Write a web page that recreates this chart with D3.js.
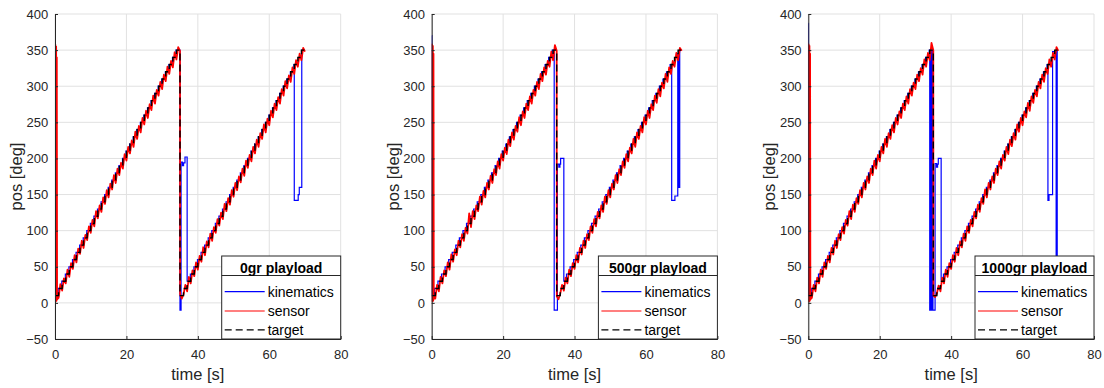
<!DOCTYPE html>
<html>
<head>
<meta charset="utf-8">
<script src="https://cdn.jsdelivr.net/npm/d3@7"></script>
<style>
  body { margin: 0; background: #fff; }
  svg { display: block; font-family: "Liberation Sans", Arial, sans-serif; }
</style>
</head>
<body>
<svg width="1104" height="388"></svg>
<script>
// ---- data ----
const panelTitles = ["0gr playload", "500gr playload", "1000gr playload"];
const seriesNames = ["kinematics", "sensor", "target"];
const xTicks = [0, 20, 40, 60, 80];
const yTicks = [-50, 0, 50, 100, 150, 200, 250, 300, 350, 400];

// target: one 10 deg step per second, two sweeps
const stepLevels = [10, 20, 30, 40, 50, 60, 70, 80, 90, 100, 110, 120, 130, 140, 150, 160, 170, 180,
  190, 200, 210, 220, 230, 240, 250, 260, 270, 280, 290, 300, 310, 320, 330, 340, 350];
const sweepStarts = [0, 35];
const sweepEnd = 70;

// kinematics: how far (s) it runs ahead of the target, plus the glitches [t, deg]
const kinLead = [0.1, 0.25, 0.15];
const kinStart = [
  [[0, 372], [0.05, 10]],
  [[0, 370], [0.05, 10]],
  [[0, 387], [0.05, 10]]
];
const kinMid = [
  [[35, -10], [35.3, 195], [35.7, 190], [36.0, 194], [36.4, 202], [37.0, 30]],
  [[34.3, -10], [35.2, 192], [35.6, 188], [35.9, 192], [36.1, 200], [37.0, 30]],
  [[34.0, -10], [34.2, 350], [34.5, -10], [34.7, 350], [34.9, -10], [35.5, 193], [35.9, 188], [36.2, 192], [36.4, 200], [37.2, 32]]
];
const kinEnd = [
  [[67.0, 142], [68.1, 150], [68.4, 160], [69.1, 350], [70, 350]],
  [[67.2, 142], [68.1, 148], [68.9, 345], [69.05, 160], [69.2, 348], [69.35, 160], [69.45, 350], [70, 350]],
  [[67.1, 142], [67.4, 150], [68.4, 348], [69.4, 0], [69.55, 350], [69.7, 0], [69.8, 0]]
];

// sensor: samples every 0.5 s inside each sweep
const sensorSweep1 = [
  [15, 7, 26, 17, 34, 27, 46, 36, 55, 47, 66, 56, 75, 68, 86, 76, 94, 87, 106, 97,
   115, 106, 127, 117, 135, 126, 146, 137, 156, 146, 165, 157, 177, 166, 186, 177, 194, 186, 206, 197,
   216, 207, 225, 216, 237, 227, 245, 236, 256, 247, 266, 256, 275, 267, 287, 276, 295, 287, 306, 296,
   316, 307, 327, 317, 335, 326, 347, 337, 354, 349],
  [14, 6, 25, 16, 36, 27, 45, 37, 56, 46, 67, 57, 74, 66, 86, 77, 95, 86, 104, 96,
   124, 105, 127, 116, 135, 127, 147, 136, 155, 146, 166, 157, 176, 166, 185, 177, 196, 186, 206, 197,
   215, 206, 226, 217, 236, 226, 245, 237, 257, 246, 265, 256, 276, 267, 286, 276, 295, 287, 306, 296,
   317, 307, 326, 316, 335, 327, 348, 336, 357, 349],
  [16, 7, 25, 16, 35, 27, 46, 36, 56, 47, 65, 56, 76, 67, 86, 76, 95, 87, 105, 96,
   115, 107, 127, 116, 136, 126, 145, 137, 156, 146, 166, 157, 175, 166, 186, 177, 197, 186, 205, 196,
   216, 207, 227, 216, 235, 227, 246, 236, 256, 247, 265, 256, 276, 267, 286, 276, 296, 287, 305, 296,
   316, 307, 325, 316, 337, 327, 346, 336, 360, 350]
];
const sensorSweep2 = [
  [6, 12, 25, 16, 36, 27, 45, 37, 56, 46, 65, 57, 77, 66, 85, 77, 96, 86, 105, 97,
   116, 107, 125, 116, 137, 127, 145, 136, 156, 147, 166, 156, 175, 167, 186, 176, 197, 187, 205, 196,
   216, 207, 226, 216, 235, 227, 247, 236, 255, 246, 266, 257, 276, 267, 285, 276, 296, 287, 307, 297,
   315, 306, 326, 317, 336, 327, 345, 336, 353, 348],
  [5, 13, 25, 17, 35, 27, 46, 37, 55, 47, 66, 56, 76, 67, 86, 76, 95, 87, 106, 97,
   116, 106, 126, 117, 135, 126, 147, 137, 156, 146, 165, 157, 177, 166, 185, 177, 196, 187, 206, 196,
   215, 207, 227, 216, 236, 227, 245, 236, 257, 247, 266, 256, 275, 267, 287, 277, 296, 286, 305, 297,
   317, 306, 326, 317, 335, 327, 346, 336, 353, 349],
  [8, 13, 24, 16, 35, 27, 46, 36, 55, 47, 66, 57, 76, 66, 85, 77, 96, 86, 106, 97,
   115, 106, 126, 117, 136, 126, 145, 137, 157, 146, 166, 157, 175, 166, 186, 177, 196, 186, 205, 197,
   216, 206, 226, 217, 235, 226, 247, 237, 256, 246, 265, 257, 277, 266, 286, 277, 295, 286, 306, 297,
   316, 306, 325, 317, 337, 327, 346, 337, 354, 349]
];
// start-up oscillation and the drop back at the end of sweep 1
const sensorExtra = [
  [[0, 2], [0.08, 358], [0.2, 2], [0.32, 355], [0.42, 3], [0.5, 340], [0.58, 5], [35.03, 12]],
  [[0, 2], [0.08, 358], [0.2, 2], [0.32, 356], [0.42, 3], [0.5, 345], [0.58, 6], [35.03, 9]],
  [[0, 2], [0.08, 358], [0.2, 2], [0.32, 356], [0.42, 3], [0.5, 345], [0.58, 5], [35.03, 10]]
];

// ---- layout ----
const svg = d3.select("svg");
const plotW = 285.7, plotTop = 14, plotBottom = 339;
const lefts = [55, 431.7, 808.3];
const legendW = 119;
const ink = "#262626";
const colors = ["#0000ff", "#ff0000", "#000000"];
const widths = [1.2, 1.8, 1.4];

const y = d3.scaleLinear().domain([-50, 400]).range([plotBottom, plotTop]);

const stepLine = (x) => d3.line().x(d => x(d[0])).y(d => y(d[1])).curve(d3.curveStepAfter);
const plainLine = (x) => d3.line().x(d => x(d[0])).y(d => y(d[1]));

function targetPoints() {
  const pts = sweepStarts.flatMap(s => stepLevels.map((v, i) => [s + i, v]));
  pts.push([sweepEnd, stepLevels[stepLevels.length - 1]]);
  return pts;
}

function kinPoints(p) {
  const lead = kinLead[p];
  const s = kinStart[p], m = kinMid[p], e = kinEnd[p];
  const r1 = stepLevels.map((v, i) => [sweepStarts[0] + i - lead, v])
    .filter(d => d[0] > s[s.length - 1][0] && d[0] < m[0][0]);
  const r2 = stepLevels.map((v, i) => [sweepStarts[1] + i - lead, v])
    .filter(d => d[0] > m[m.length - 1][0] && d[0] < e[0][0]);
  return [...s, ...r1, ...m, ...r2, ...e];
}

function sensorPoints(p) {
  const pts = [];
  sensorSweep1[p].forEach((v, i) => pts.push([sweepStarts[0] + (i + 1) * 0.5, v]));
  sensorSweep2[p].forEach((v, i) => pts.push([sweepStarts[1] + (i + 1) * 0.5, v]));
  return pts.concat(sensorExtra[p]).sort((a, b) => a[0] - b[0]);
}

panelTitles.forEach((title, p) => {
  const left = lefts[p], right = left + plotW;
  const x = d3.scaleLinear().domain([0, 80]).range([left, right]);
  const g = svg.append("g");

  // grid
  g.append("g").selectAll("line").data(yTicks).join("line")
    .attr("x1", left).attr("x2", right)
    .attr("y1", d => y(d)).attr("y2", d => y(d))
    .attr("stroke", "#e1e1e1").attr("stroke-width", 1);
  g.append("g").selectAll("line").data(xTicks).join("line")
    .attr("x1", d => x(d)).attr("x2", d => x(d))
    .attr("y1", plotTop).attr("y2", plotBottom)
    .attr("stroke", "#e1e1e1").attr("stroke-width", 1);

  // data
  const clipId = "clip" + p;
  g.append("clipPath").attr("id", clipId).append("rect")
    .attr("x", left).attr("y", plotTop).attr("width", plotW).attr("height", plotBottom - plotTop);
  const data = g.append("g").attr("clip-path", `url(#${clipId})`).attr("fill", "none");

  data.append("path").attr("d", stepLine(x)(kinPoints(p)))
    .attr("stroke", colors[0]).attr("stroke-width", widths[0]);
  data.append("path").attr("d", plainLine(x)(sensorPoints(p)))
    .attr("stroke", colors[1]).attr("stroke-width", widths[1]).attr("stroke-linejoin", "round");
  data.append("path").attr("d", stepLine(x)(targetPoints()))
    .attr("stroke", colors[2]).attr("stroke-width", widths[2]).attr("stroke-dasharray", "7,4");

  // axes
  const ay = g.append("g").attr("transform", `translate(${left},0)`)
    .call(d3.axisLeft(y).tickValues(yTicks).tickSize(-3).tickSizeOuter(0).tickPadding(6.7));
  const ax = g.append("g").attr("transform", `translate(0,${plotBottom})`)
    .call(d3.axisBottom(x).tickValues(xTicks).tickSize(-3).tickSizeOuter(0).tickPadding(11));
  [ax, ay].forEach(a => {
    a.attr("font-family", null).attr("font-size", null);
    a.select(".domain").attr("stroke", ink).attr("stroke-width", 1);
    a.selectAll(".tick line").attr("stroke", ink);
    a.selectAll(".tick text").attr("fill", ink).style("font-size", "13px");
  });

  // axis titles
  g.append("text")
    .attr("transform", `translate(${left - 33},${(plotTop + plotBottom) / 2}) rotate(-90)`)
    .attr("text-anchor", "middle").attr("fill", ink).style("font-size", "16.5px")
    .text("pos [deg]");
  g.append("text")
    .attr("x", (left + right) / 2).attr("y", 380)
    .attr("text-anchor", "middle").attr("fill", ink).style("font-size", "16.5px")
    .text("time [s]");

  // legend
  const lx = right - legendW, ly = 256;
  const leg = g.append("g");
  leg.append("rect")
    .attr("x", lx).attr("y", ly).attr("width", legendW).attr("height", plotBottom - ly)
    .attr("fill", "#fff").attr("stroke", ink).attr("stroke-width", 1);
  leg.append("line")
    .attr("x1", lx).attr("x2", right).attr("y1", ly + 19.5).attr("y2", ly + 19.5)
    .attr("stroke", ink).attr("stroke-width", 1);
  leg.append("text")
    .attr("x", lx + legendW / 2).attr("y", ly + 16.5)
    .attr("text-anchor", "middle").attr("fill", "#000")
    .style("font-size", "14px").style("font-weight", "bold")
    .text(title);
  const rowY = [291.7, 311, 329.8];
  seriesNames.forEach((name, i) => {
    leg.append("line")
      .attr("x1", lx + 3).attr("x2", lx + 43).attr("y1", rowY[i]).attr("y2", rowY[i])
      .attr("stroke", colors[i]).attr("stroke-width", 1.2)
      .attr("stroke-dasharray", i === 2 ? "7,4" : null);
    leg.append("text")
      .attr("x", lx + 46).attr("y", rowY[i] + 5)
      .attr("fill", "#000").style("font-size", "14px")
      .text(name);
  });
});
</script>
</body>
</html>
